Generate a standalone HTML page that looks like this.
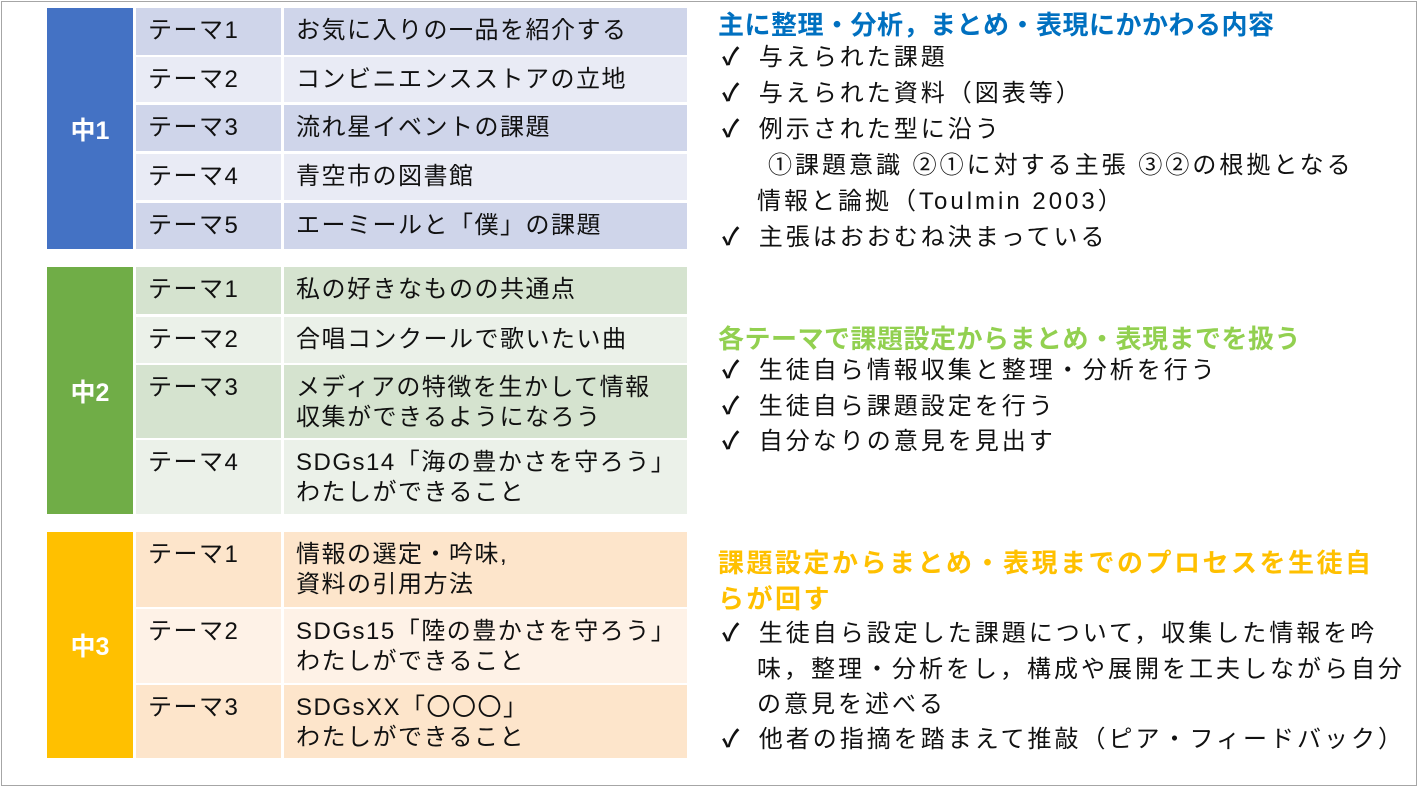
<!DOCTYPE html>
<html><head><meta charset="utf-8"><style>
body{margin:0;width:1418px;height:787px;background:#fff;position:relative;overflow:hidden;font-family:"Liberation Sans","Noto Sans CJK JP",sans-serif;color:#111}
.frame{position:absolute;left:1px;top:1px;width:1414px;height:783px;border:1px solid #a6a6a6}
.lab{position:absolute;color:#fff;font-size:25px;font-weight:bold;display:flex;align-items:center;justify-content:center;left:47px;width:86px}
.c{position:absolute;font-size:24px;line-height:30px;padding-top:8px;box-sizing:border-box;letter-spacing:1.5px;white-space:nowrap}
.t{position:absolute;left:718px;font-size:26px;font-weight:bold;line-height:30px;white-space:nowrap}
.i{position:absolute;left:722px;font-size:24px;line-height:36px;white-space:nowrap;letter-spacing:3px}
.i b{font-weight:bold;letter-spacing:0}
</style></head><body>
<div class="frame"></div>
<div class="lab" style="top:8px;height:241px;background:#4472c4">中1</div>
<script>
function rows(tops,bots,c1,c2,texts){
 let h='';
 for(let k=0;k<tops.length;k++){
  let bg=k%2==0?c1:c2, hh=bots[k]-tops[k];
  h+=`<div class="c" style="left:136px;top:${tops[k]}px;width:145px;height:${hh}px;background:${bg};padding-left:12px">テーマ${k+1}</div>`;
  h+=`<div class="c" style="left:284px;top:${tops[k]}px;width:403px;height:${hh}px;background:${bg};padding-left:12px">${texts[k]}</div>`;
 }
 document.write(h);
}
rows([8,57,105,154,203],[55,102,151,200,249],'#cfd5ea','#e9ebf5',
['お気に入りの一品を紹介する','コンビニエンスストアの立地','流れ星イベントの課題','青空市の図書館','エーミールと「僕」の課題']);
</script>
<div class="lab" style="top:267px;height:247px;background:#70ad47">中2</div>
<script>
rows([267,317,365,440],[314,363,438,514],'#d5e3cf','#ebf1e9',
['私の好きなものの共通点','合唱コンクールで歌いたい曲','メディアの特徴を生かして情報<br>収集ができるようになろう','SDGs14「海の豊かさを守ろう」<br>わたしができること']);
</script>
<div class="lab" style="top:532px;height:226px;background:#ffc000">中3</div>
<script>
rows([532,609,685],[607,683,758],'#fde5cb','#fef2e7',
['情報の選定・吟味,<br>資料の引用方法','SDGs15「陸の豊かさを守ろう」<br>わたしができること','SDGsXX「〇〇〇」<br>わたしができること']);
</script>
<div class="t" style="top:10px;color:#0070c0;letter-spacing:0.5px">主に整理・分析，まとめ・表現にかかわる内容</div>
<div class="i" style="top:40px"><b>✓</b>&nbsp; 与えられた課題</div>
<div class="i" style="top:76px"><b>✓</b>&nbsp; 与えられた資料（図表等）</div>
<div class="i" style="top:112px"><b>✓</b>&nbsp; 例示された型に沿う</div>
<div class="i" style="top:148px;left:768px">①課題意識 ②①に対する主張 ③②の根拠となる</div>
<div class="i" style="top:184px;left:757px">情報と論拠（Toulmin 2003）</div>
<div class="i" style="top:220px"><b>✓</b>&nbsp; 主張はおおむね決まっている</div>
<div class="t" style="top:324px;color:#92d050;letter-spacing:0.5px">各テーマで課題設定からまとめ・表現までを扱う</div>
<div class="i" style="top:353px"><b>✓</b>&nbsp; 生徒自ら情報収集と整理・分析を行う</div>
<div class="i" style="top:389px"><b>✓</b>&nbsp; 生徒自ら課題設定を行う</div>
<div class="i" style="top:424px"><b>✓</b>&nbsp; 自分なりの意見を見出す</div>
<div class="t" style="top:548px;color:#ffc000;letter-spacing:2.5px">課題設定からまとめ・表現までのプロセスを生徒自</div>
<div class="t" style="top:584px;color:#ffc000;letter-spacing:2.5px">らが回す</div>
<div class="i" style="top:616px"><b>✓</b>&nbsp; 生徒自ら設定した課題について，収集した情報を吟</div>
<div class="i" style="top:652px;left:757px">味，整理・分析をし，構成や展開を工夫しながら自分</div>
<div class="i" style="top:687px;left:757px">の意見を述べる</div>
<div class="i" style="top:722px"><b>✓</b>&nbsp; 他者の指摘を踏まえて推敲（ピア・フィードバック）</div>
</body></html>
